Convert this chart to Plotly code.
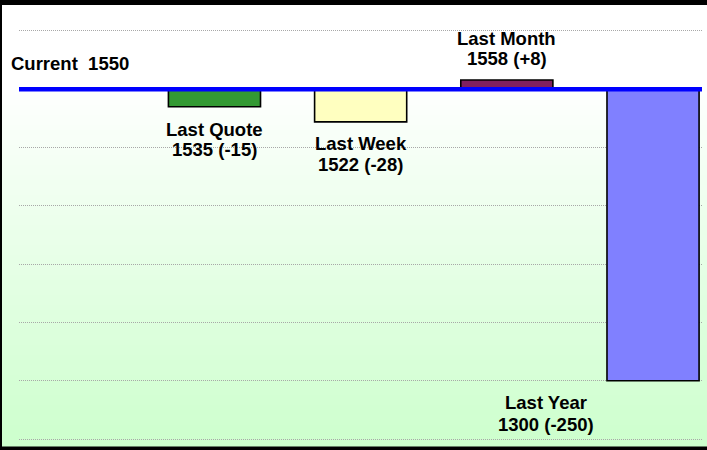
import plotly.graph_objects as go

# ---- data ----
current_label = "Current"
current_value = 1550
categories = ["Last Quote", "Last Week", "Last Month", "Last Year"]
values = [1535, 1522, 1558, 1300]
bar_colors = ["#339933", "#ffffc0", "#802060", "#8080ff"]
y_ticks = [1250, 1300, 1350, 1400, 1450, 1500, 1550, 1600]

# ---- layout helpers (positions / styling) ----
W, H = 707, 450
ML, MR, MT, MB = 19, 5, 29, 9
Y_PAD = 1.7
label_x = [0, 1, 2, 2.27]
label_y = [1506.8, 1494.8, 1584.7, 1271.8]
label_gap = [19.7, 21.0, 19.7, 22.0]
FONT = "Liberation Sans, Arial, sans-serif"
FS = 18.5

deltas = [v - current_value for v in values]
xs = list(range(len(categories)))

fig = go.Figure()
fig.add_trace(go.Bar(
    x=xs, y=deltas, base=current_value, width=0.63,
    marker=dict(color=bar_colors, line=dict(color="black", width=1.6)),
    hoverinfo="skip", showlegend=False,
))

ph = H - MT - MB
pw = W - ML - MR


def py2paper(py):
    return (H - MB - py) / ph


def px2paper(px):
    return (px - ML) / pw


shapes = []
# gradient background (white -> light green)
g0, g1 = 85, 450
n = 73
step = (g1 - g0) / n
for i in range(n):
    t = (i + 0.5) / n
    r = round(255 + (204 - 255) * t)
    c = f"rgb({r},255,{r})"
    shapes.append(dict(type="rect", xref="paper", yref="paper",
                       x0=px2paper(0), x1=px2paper(W),
                       y0=py2paper(g0 + (i + 1) * step + 0.5), y1=py2paper(g0 + i * step),
                       fillcolor=c, line=dict(width=0), layer="below"))
# current line
shapes.append(dict(type="line", xref="paper", yref="y", x0=0, x1=1,
                   y0=current_value, y1=current_value,
                   line=dict(color="#0000ff", width=4.3), layer="above"))
# frame
frame = [(0, W, 0, 5), (0, 2, 0, H), (0, W, 446.5, H)]
for x0, x1, t0, t1 in frame:
    shapes.append(dict(type="rect", xref="paper", yref="paper",
                       x0=px2paper(x0), x1=px2paper(x1),
                       y0=py2paper(t1), y1=py2paper(t0),
                       fillcolor="black", line=dict(width=0), layer="above"))

font = dict(family=FONT, size=FS, color="black")
annotations = [dict(
    xref="paper", yref="y", x=px2paper(8.7), y=1572.1,
    xanchor="left", yanchor="middle", showarrow=False,
    text=f"<b>{current_label}  {current_value}</b>", font=font)]
for name, v, d, lx, ly, gap in zip(categories, values, deltas, label_x, label_y, label_gap):
    for txt, sh in ((name, gap / 2), (f"{v} ({d:+d})", -gap / 2)):
        annotations.append(dict(
            x=lx, y=ly, xref="x", yref="y", xanchor="center", yanchor="middle",
            yshift=sh, showarrow=False, align="center",
            text=f"<b>{txt}</b>", font=font))

fig.update_layout(
    width=W, height=H,
    margin=dict(l=ML, r=MR, t=MT, b=MB, pad=0),
    paper_bgcolor="white", plot_bgcolor="rgba(0,0,0,0)",
    shapes=shapes, annotations=annotations,
    xaxis=dict(range=[-1.337, 3.335], showgrid=False, zeroline=False,
               showticklabels=False, ticks="", showline=False, fixedrange=True),
    yaxis=dict(range=[y_ticks[0] - Y_PAD, y_ticks[-1] + Y_PAD], tickvals=y_ticks,
               showgrid=True, gridcolor="#a8a8a8", griddash="1px,1px", gridwidth=1,
               zeroline=False, showticklabels=False, ticks="", showline=False,
               fixedrange=True),
    showlegend=False,
)

fig.write_html(
    "out.html",
    config={"displayModeBar": False},
    post_script="document.body.style.margin='0';document.body.style.overflow='hidden';",
)
